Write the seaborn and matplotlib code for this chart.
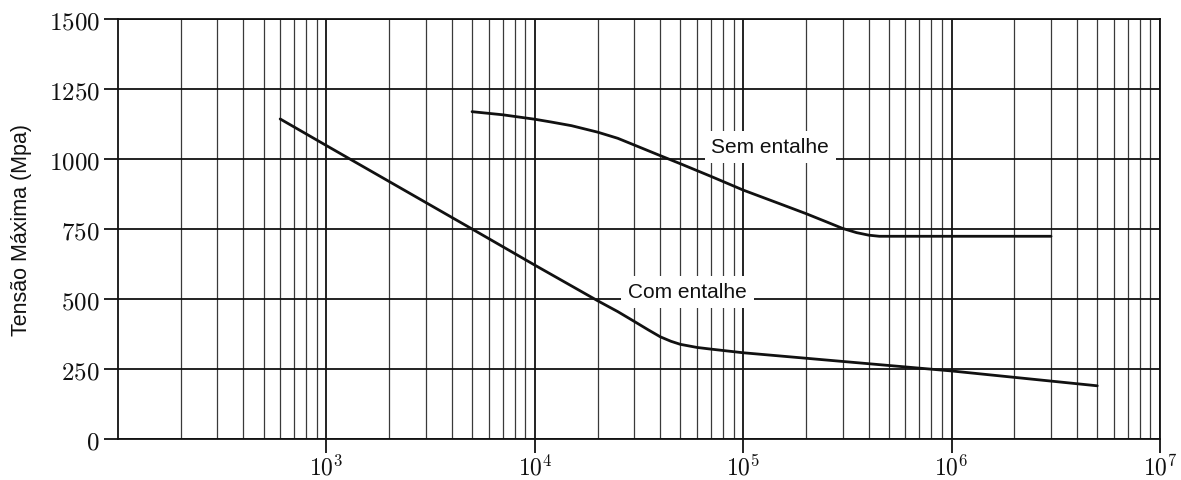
import numpy as np
import pandas as pd
import matplotlib
matplotlib.use("Agg")
import matplotlib.pyplot as plt
import matplotlib.ticker as mticker
import seaborn as sns

# Fatigue curves: number of cycles vs. maximum stress
ciclos_com = [600, 1000, 5000, 1e4, 2e4, 2.5e4, 3e4, 3.5e4, 4e4, 4.5e4, 5e4, 6e4, 7e4,
              1e5, 1e6, 5e6]
tensao_com = [1143, 1048, 750, 621, 494, 455, 420, 390, 365, 349, 338, 327, 321,
              308, 243, 190]

ciclos_sem = [5000, 7000, 1e4, 1.2e4, 1.5e4, 2e4, 2.5e4, 3e4, 4e4, 5e4, 7e4, 1e5, 1.5e5,
              2e5, 2.5e5, 3e5, 3.5e5, 4e5, 4.5e5, 3e6]
tensao_sem = [1169, 1158, 1142, 1132, 1119, 1096, 1074, 1050, 1012, 983, 938, 889, 840,
              805, 776, 752, 737, 728, 724, 724]

rotulos = ["Sem entalhe", "Com entalhe"]
rotulo_pos_x = [1.35e5, 5.4e4]
rotulo_pos_y = [1043, 525]

y_ticks = [0, 250, 500, 750, 1000, 1250, 1500]
x_ticks = [1e3, 1e4, 1e5, 1e6, 1e7]
x_tick_labels = [r"$10^{3}$", r"$10^{4}$", r"$10^{5}$", r"$10^{6}$", r"$10^{7}$"]

sns.set_theme(style="white")
plt.rcParams["mathtext.fontset"] = "cm"
plt.rcParams["font.family"] = ["Liberation Sans", "DejaVu Sans"]

df = pd.concat([
    pd.DataFrame({"ciclos": ciclos_sem, "tensao": tensao_sem, "curva": rotulos[0]}),
    pd.DataFrame({"ciclos": ciclos_com, "tensao": tensao_com, "curva": rotulos[1]}),
])

fig = plt.figure(figsize=(11.81, 4.81), dpi=100)
ax = fig.add_axes([118 / 1181, 1 - 440 / 481, (1160 - 118) / 1181, 420 / 481])

ax.set_xscale("log")
ax.set_xlim(1e2, 1e7)
ax.set_ylim(0, 1500)

# Grid: every integer multiple within each decade, plus stress levels
ax.xaxis.set_minor_locator(mticker.LogLocator(base=10, subs=np.arange(2, 10)))
ax.grid(which="minor", axis="x", color="#3a3a3a", lw=0.9, zorder=0)
ax.grid(which="major", axis="x", color="#111111", lw=1.3, zorder=0)
ax.grid(which="major", axis="y", color="#111111", lw=1.3, zorder=0)
ax.set_axisbelow(True)

for txt, xp, yp in zip(rotulos, rotulo_pos_x, rotulo_pos_y):
    ax.text(xp, yp, txt, ha="center", va="center", fontsize=15, color="#111111",
            bbox=dict(facecolor="white", edgecolor="none", pad=5), zorder=2.5)

sns.lineplot(data=df, x="ciclos", y="tensao", units="curva", estimator=None,
             color="#111111", lw=2.0, sort=False, ax=ax, legend=False, zorder=3)

ax.set_yticks(y_ticks)
ax.set_yticklabels([rf"${v}$" for v in y_ticks], fontsize=18)
ax.set_xticks(x_ticks)
ax.set_xticklabels(x_tick_labels, fontsize=17)
ax.xaxis.set_minor_formatter(mticker.NullFormatter())
ax.tick_params(axis="both", which="major", direction="out", length=10, width=1.3,
               color="#111111", labelcolor="#111111", bottom=True, left=True)
ax.tick_params(axis="x", which="minor", length=0)
ax.tick_params(axis="x", pad=1)
ax.tick_params(axis="y", pad=3)

for s in ax.spines.values():
    s.set_color("#111111")
    s.set_linewidth(1.3)

ax.set_xlabel("")
ax.set_ylabel("Tensão Máxima (Mpa)", fontsize=15.5, color="#111111", labelpad=12)

fig.savefig("out.png", dpi=100, facecolor="white")
